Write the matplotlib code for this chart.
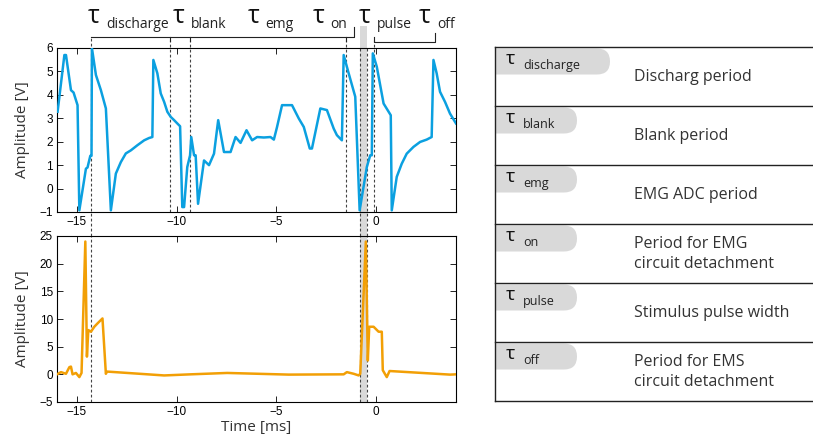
import matplotlib
matplotlib.use("Agg")
import matplotlib.pyplot as plt
import matplotlib.transforms as mtransforms
from matplotlib.patches import FancyBboxPatch, Rectangle

# EMG input trace (top panel), time in ms and amplitude in V
emg_t = [-15.97, -15.63, -15.55, -15.3, -15.17, -14.97, -14.88, -14.55, -14.47,
         -14.33, -14.27, -14.25, -14.05, -13.8, -13.55, -13.3, -13.05, -12.8,
         -12.55, -12.3, -11.97, -11.63, -11.38, -11.22, -11.17, -10.97, -10.8,
         -10.63, -10.47, -10.3, -10.13, -9.97, -9.83, -9.72, -9.63, -9.47,
         -9.33, -9.27, -9.13, -9.05, -8.93, -8.63, -8.38, -8.13, -7.92, -7.63,
         -7.3, -7.05, -6.8, -6.5, -6.22, -5.97, -5.63, -5.3, -5.13, -4.97,
         -4.72, -4.22, -3.88, -3.63, -3.33, -3.22, -2.8, -2.47, -2.13, -1.97,
         -1.72, -1.63, -1.38, -1.05, -0.83, -0.47, -0.3, -0.22, -0.17, 0.03,
         0.37, 0.73, 0.78, 1.03, 1.28, 1.53, 1.87, 2.2, 2.53, 2.78, 2.87,
         3.03, 3.2, 3.45, 3.7, 4.0]
emg_v = [3.28, 5.7, 5.7, 4.2, 4.1, 3.56, -0.93, 0.85, 0.9,
         1.4, 1.4, 6.0, 4.85, 4.2, 3.42, -0.93, 0.64, 1.13,
         1.5, 1.63, 1.85, 2.06, 2.16, 2.2, 5.49, 4.92, 4.06,
         3.7, 3.28, 3.06, 2.92, 2.78, 2.66, -0.79, -0.79, 0.92,
         1.42, 2.2, 1.42, 1.42, -0.65, 1.2, 1.0, 1.49, 2.92, 1.56,
         1.56, 2.2, 1.95, 2.49, 2.06, 2.2, 2.18, 2.2, 2.09, 2.63,
         3.56, 3.56, 2.99, 2.63, 1.71, 1.71, 3.42, 3.35, 2.56, 2.28,
         2.06, 5.7, 4.92, 3.92, -0.93, 0.92, 1.42, 1.42, 5.77, 5.2,
         3.63, 3.13, -0.93, 0.5, 1.06, 1.49, 1.78, 1.99, 2.09, 2.2, 5.49,
         4.92, 4.13, 3.7, 3.2, 2.78]

# EMS output trace (bottom panel)
ems_t = [-16.0, -15.8, -15.55, -15.38, -15.3, -15.22, -15.05, -14.88, -14.77,
         -14.58, -14.5, -14.43, -14.3, -14.13, -13.97, -13.72, -13.55, -13.5,
         -10.63, -9.3, -7.47, -4.38, -1.63, -1.47, -1.13, -0.88, -0.8,
         -0.52, -0.42, -0.35, -0.13, 0.12, 0.28, 0.33, 0.53, 0.67,
         3.7, 4.0]
ems_v = [0.0, 0.4, 0.1, 1.3, 1.4, 0.0, 0.25, -0.5, 0.25,
         24.0, 3.2, 8.0, 7.7, 8.6, 9.2, 10.1, 0.1, 0.5,
         -0.2, 0.0, 0.25, -0.05, 0.0, 0.4, 0.1, -0.2, 0.1,
         24.0, 2.5, 8.6, 8.6, 7.7, 7.7, 0.75, -0.5, 0.6,
         -0.05, 0.0]

# timing markers (ms)
shared_marks = [-14.3, -0.8, -0.45]
top_marks = [-10.35, -9.35, -1.5, -0.1]
pulse_span = (-0.8, -0.45)

tau_names = ["discharge", "blank", "emg", "on", "pulse", "off"]
tau_label_x = [-14.45, -10.2, -6.45, -3.2, -0.85, 2.15]
descriptions = ["Discharg period", "Blank period", "EMG ADC period",
                "Period for EMG\ncircuit detachment", "Stimulus pulse width",
                "Period for EMS\ncircuit detachment"]

W, H = 813, 434
BLUE = "#0ba0e0"
ORANGE = "#f29f05"
GREY = "#d9d9d9"
LABEL_FONT = ["Open Sans", "DejaVu Sans"]

plt.rcParams["font.family"] = ["Liberation Sans", "DejaVu Sans"]

fig = plt.figure(figsize=(W / 100, H / 100), dpi=100)


def px_axes(left, top, right, bottom):
    return fig.add_axes([left / W, 1 - bottom / H, (right - left) / W, (bottom - top) / H])


ax1 = px_axes(57, 48, 456, 212)
ax2 = px_axes(57, 236, 456, 402)
gap1 = 24 / 164

for ax in (ax1, ax2):
    ax.set_xlim(-16, 4)
    ax.set_xticks([-15, -10, -5, 0])
    ax.tick_params(direction="in", top=True, right=True, length=4, width=0.6,
                   labelsize=8.5, pad=3)
    for s in ax.spines.values():
        s.set_linewidth(0.8)

ax1.set_ylim(-1, 6)
ax1.set_yticks(range(-1, 7))
ax2.set_ylim(-5, 25)
ax2.set_yticks(range(-5, 26, 5))

ax1.plot(emg_t, emg_v, color=BLUE, lw=1.8, zorder=3)
ax2.plot(ems_t, ems_v, color=ORANGE, lw=1.8, zorder=3)

ax1.set_ylabel("Amplitude [V]", family=LABEL_FONT, fontsize=11, color="#333333", labelpad=7)
ax2.set_ylabel("Amplitude [V]", family=LABEL_FONT, fontsize=11, color="#333333", labelpad=7)
ax2.set_xlabel("Time [ms]", family=LABEL_FONT, fontsize=11, color="#333333", labelpad=1)

dash = dict(color="#444444", lw=0.8, ls=(0, (2.5, 2)))
tr1 = mtransforms.blended_transform_factory(ax1.transData, ax1.transAxes)

# grey pulse band, reaching across the gap and above the top panel
ax1.add_patch(Rectangle((pulse_span[0], -gap1), pulse_span[1] - pulse_span[0], 1 + gap1 + 0.134,
                        transform=tr1, color=GREY, lw=0, clip_on=False, zorder=0.5))
ax2.axvspan(*pulse_span, color=GREY, lw=0, zorder=0.5)

for x in shared_marks:
    top = 1.069 if x == shared_marks[0] else 1.0
    ax1.axvline(x, ymin=-gap1, ymax=top, clip_on=False, zorder=2, **dash)
    ax2.axvline(x, zorder=2, **dash)
for x in top_marks:
    ax1.axvline(x, ymin=0, ymax=1.05, clip_on=False, zorder=2, **dash)

# brackets above the top panel
br = dict(color="#222222", lw=0.8, transform=tr1, clip_on=False)
ax1.plot([shared_marks[0], -1.1, -1.1], [1.069, 1.069, 1.128], **br)
for x in top_marks[:3]:
    ax1.plot([x, x], [1.069, 1.045], **br)
ax1.plot([-0.1, -0.1, 2.95, 2.95], [1.067, 1.038, 1.038, 1.091], **br)

for name, x in zip(tau_names, tau_label_x):
    ax1.text(x, 1.152, "τ", transform=tr1, fontsize=18, family=LABEL_FONT,
             ha="left", va="baseline", color="#111111")
    ax1.annotate(name, xy=(x, 1.119), xycoords=tr1, xytext=(18, 0),
                 textcoords="offset pixels", fontsize=10, family=LABEL_FONT,
                 ha="left", va="baseline", color="#222222", annotation_clip=False)

# table on the right
tab = px_axes(495, 47, 813, 401)
tab.set_xlim(0, 318)
tab.set_ylim(354, 0)
tab.axis("off")
row_h = 354 / len(tau_names)
tab.plot([0, 0], [0, 354], color="#222222", lw=1.0, clip_on=False)
for i in range(len(tau_names) + 1):
    tab.plot([0, 318], [i * row_h, i * row_h], color="#222222", lw=1.0, clip_on=False)

for i, (name, desc) in enumerate(zip(tau_names, descriptions)):
    y0 = i * row_h
    pill_w = 115 if name == "discharge" else 82
    tab.add_patch(FancyBboxPatch((-20, y0 + 1.5), pill_w + 20, 26,
                                 boxstyle="round,pad=0,rounding_size=13",
                                 fc=GREY, ec="none", zorder=1))
    tab.text(11, y0 + 17, "τ", fontsize=14, family=LABEL_FONT, ha="left",
             va="baseline", color="#111111", zorder=2)
    tab.text(28, y0 + 21.5, name, fontsize=9, family=LABEL_FONT, ha="left",
             va="baseline", color="#222222", zorder=2)
    tab.text(139, y0 + 30, desc, fontsize=11.5, family=LABEL_FONT, ha="left",
             va="center", color="#333333", linespacing=1.4)

fig.savefig("out.png", dpi=100)
